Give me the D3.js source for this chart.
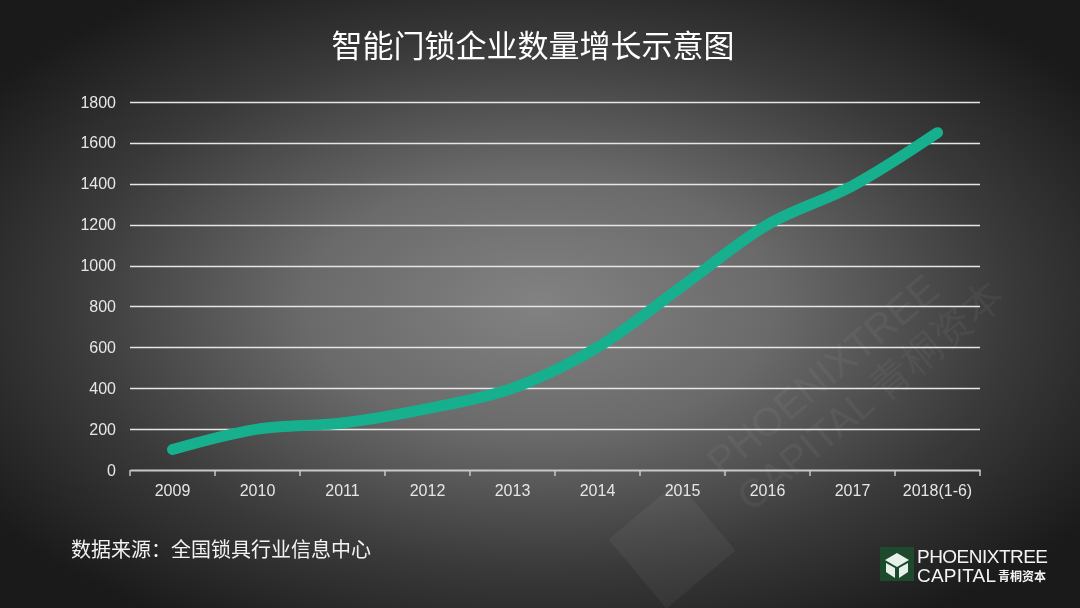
<!DOCTYPE html>
<html><head><meta charset="utf-8">
<script src="https://cdn.jsdelivr.net/npm/d3@7"></script>
<style>
html,body{margin:0;padding:0;background:#222;}
svg{display:block;}
</style></head>
<body>
<script>
const categories = ["2009","2010","2011","2012","2013","2014","2015","2016","2017","2018(1-6)"];
const companyCounts = [100, 200, 230, 300, 400, 600, 900, 1200, 1390, 1650];
const yTicks = [0,200,400,600,800,1000,1200,1400,1600,1800];
const titleText = "智能门锁企业数量增长示意图";
const sourceText = "数据来源：全国锁具行业信息中心";

const W = 1080, H = 608;
const svg = d3.select("body").append("svg").attr("width", W).attr("height", H);
const defs = svg.append("defs");
const rg = defs.append("radialGradient").attr("id","bg").attr("cx","50%").attr("cy","50%").attr("r","62%");
rg.append("stop").attr("offset","0%").attr("stop-color","#828282");
rg.append("stop").attr("offset","35%").attr("stop-color","#6a6a6a");
rg.append("stop").attr("offset","70%").attr("stop-color","#3a3a3a");
rg.append("stop").attr("offset","100%").attr("stop-color","#1a1a1a");
svg.append("rect").attr("width",W).attr("height",H).attr("fill","url(#bg)");

// watermark
const wm = svg.append("g").attr("opacity",0.05).attr("fill","#ffffff");
wm.append("g").attr("transform","translate(672,545) rotate(-40)")
  .append("rect").attr("x",-45).attr("y",-45).attr("width",90).attr("height",90).attr("fill","#ffffff");
const wmt = wm.append("g").attr("transform","translate(722,478) rotate(-40)");
wmt.append("text").attr("x",0).attr("y",0).attr("font-family","Liberation Sans, Arial, sans-serif")
  .attr("font-size",40).text("PHOENIXTREE");
wmt.append("text").attr("x",0).attr("y",46).attr("font-family","Liberation Sans, Arial, sans-serif")
  .attr("font-size",40).text("CAPITAL 青桐资本");

const x = d3.scaleBand().domain(categories).range([130, 980]);
const y = d3.scaleLinear().domain([0,1800]).range([470, 102]);

// gridlines
svg.append("g").selectAll("line").data(yTicks.filter(d=>d>0)).join("line")
  .attr("x1",130).attr("x2",980)
  .attr("y1",d=>Math.round(y(d))+0.5).attr("y2",d=>Math.round(y(d))+0.5)
  .attr("stroke","#e6e6e6").attr("stroke-width",1.6);

// y labels
svg.append("g").selectAll("text").data(yTicks).join("text")
  .attr("x",116).attr("y",d=>y(d)+5.5)
  .attr("text-anchor","end").attr("fill","#e6e6e6")
  .attr("font-family","Liberation Sans, Arial, sans-serif").attr("font-size",16)
  .text(d=>d);

// x axis
const xAxis = d3.axisBottom(x).tickSize(0).tickPadding(0);
const gx = svg.append("g").attr("transform","translate(0,470)").call(xAxis);
gx.select(".domain").attr("stroke","#c8c8c8").attr("stroke-width",2);
gx.selectAll(".tick text").attr("y",21).attr("dy","0.32em").attr("fill","#e6e6e6")
  .attr("font-family","Liberation Sans, Arial, sans-serif").attr("font-size",16);
const bounds = categories.map(c=>x(c)).concat([x(categories[categories.length-1])+x.bandwidth()]);
svg.append("g").selectAll("line").data(bounds).join("line")
  .attr("x1",d=>d).attr("x2",d=>d).attr("y1",470).attr("y2",476)
  .attr("stroke","#c8c8c8").attr("stroke-width",1.5);

// line
const line = d3.line()
  .x((d,i)=>x(categories[i]) + x.bandwidth()/2)
  .y(d=>y(d))
  .curve(d3.curveCatmullRom.alpha(0.5));
svg.append("path").datum(companyCounts).attr("d",line)
  .attr("fill","none").attr("stroke","#17b08f").attr("stroke-width",11)
  .attr("stroke-linecap","round").attr("stroke-linejoin","round");

// title
svg.append("text").attr("x",533).attr("y",57).attr("text-anchor","middle")
  .attr("fill","#ffffff").attr("font-family","Noto Sans CJK SC, sans-serif")
  .attr("font-size",31).text(titleText);

// source
svg.append("text").attr("x",71).attr("y",557)
  .attr("fill","#f2f2f2").attr("font-family","Noto Sans CJK SC, sans-serif")
  .attr("font-size",20).text(sourceText);

// logo
const logo = svg.append("g");
logo.append("rect").attr("x",880).attr("y",547).attr("width",34).attr("height",34).attr("fill","#1d4a2c");
logo.append("path").attr("d","M885,560 L897,553 L909,560 L897,567 Z M886,563 L895,568 L895,578 L886,572 Z M908,563 L899,568 L899,578 L908,572 Z")
  .attr("fill","#e8f0ea");
logo.append("text").attr("x",917).attr("y",563).attr("fill","#f4f4f4")
  .attr("font-family","Liberation Sans, Arial, sans-serif").attr("font-size",19).attr("textLength",131).text("PHOENIXTREE");
logo.append("text").attr("x",917).attr("y",582).attr("fill","#f4f4f4")
  .attr("font-family","Liberation Sans, Arial, sans-serif").attr("font-size",19).attr("textLength",79).text("CAPITAL");
logo.append("text").attr("x",998).attr("y",581).attr("fill","#f4f4f4")
  .attr("font-family","Noto Sans CJK SC, sans-serif").attr("font-weight","bold").attr("font-size",12).text("青桐资本");
</script>
</body></html>
